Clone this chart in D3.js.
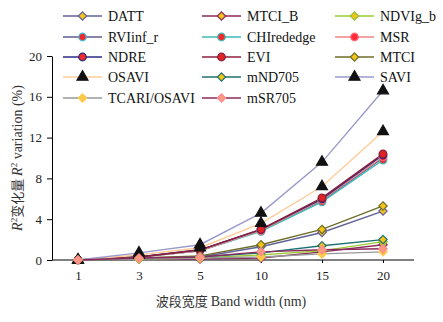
<!DOCTYPE html>
<html>
<head>
<meta charset="utf-8">
<script src="https://cdn.jsdelivr.net/npm/d3@7"></script>
<style>
  body { margin: 0; background: #fff; }
</style>
</head>
<body>
<svg id="chart" width="443" height="322"></svg>
<script>
var bandWidths = ["1", "3", "5", "10", "15", "20"];
var yTicks = [0, 4, 8, 12, 16, 20];

// R2 variation (%) per index
var DATT       = [0, 0.15, 0.3, 1.3, 2.7, 4.8];
var MTCI_B     = [0, 0.1, 0.1, 0.2, 0.8, 1.5];
var NDVIg_b    = [0, 0.1, 0.2, 0.5, 0.9, 1.8];
var RVIinf_r   = [0, 0.3, 0.9, 2.9, 5.8, 10.0];
var CHIrededge = [0, 0.3, 0.9, 2.8, 5.7, 9.8];
var MSR        = [0, 0.3, 0.9, 2.9, 5.9, 10.1];
var NDRE       = [0, 0.3, 1.0, 3.0, 6.0, 10.3];
var EVI        = [0, 0.3, 1.0, 3.0, 6.1, 10.4];
var MTCI       = [0, 0.2, 0.4, 1.5, 3.0, 5.3];
var OSAVI      = [0, 0.5, 1.2, 3.6, 7.2, 12.6];
var mND705     = [0, 0.1, 0.3, 0.7, 1.4, 2.0];
var SAVI       = [0, 0.7, 1.5, 4.6, 9.6, 16.6];
var TCARI_OSAVI = [0, 0.1, 0.2, 0.3, 0.6, 0.8];
var mSR705     = [0, 0.2, 0.3, 0.8, 1.0, 1.1];

var SERIF = "'Liberation Serif', 'Times New Roman', serif";
var CJK = "'Noto Sans CJK SC', sans-serif";

// name, values, line colour, marker, fill, stroke
var series = [
  ["DATT", DATT, "#62629a", "diamond", "#f5c21a", "#62629a"],
  ["MTCI_B", MTCI_B, "#8c2a5c", "diamond", "#f5c21a", "#8c2a5c"],
  ["NDVIg_b", NDVIg_b, "#9acd32", "diamond", "#f5c21a", "#8fc23a"],
  ["RVIinf_r", RVIinf_r, "#5c5c8c", "circle", "#ee2a2a", "#3cc0e0"],
  ["CHIrededge", CHIrededge, "#3fb8b8", "circle", "#ee2a2a", "#3fb8b8"],
  ["MSR", MSR, "#f08585", "circle", "#ff2a3a", "#ff6a7a"],
  ["NDRE", NDRE, "#2a2a82", "circle", "#ee2a2a", "#2a2a82"],
  ["EVI", EVI, "#8c1f3c", "circle", "#e02424", "#8c1f3c"],
  ["MTCI", MTCI, "#6e6e2a", "diamond", "#f5c21a", "#6e6e2a"],
  ["OSAVI", OSAVI, "#ffcc99", "triangle", "#111", "#111"],
  ["mND705", mND705, "#1f7272", "diamond", "#f5c21a", "#1f7272"],
  ["SAVI", SAVI, "#9a9acc", "triangle", "#111", "#111"],
  ["TCARI/OSAVI", TCARI_OSAVI, "#999999", "diamond", "#ffc94a", "#ffc94a"],
  ["mSR705", mSR705, "#8c2a5c", "diamond", "#ff9a80", "#ff8a90"]
];

var svg = d3.select("#chart");

var x = d3.scalePoint().domain(bandWidths).range([78, 383]);
var y = d3.scaleLinear().domain([0, 20]).range([260, 56]);

function markerPath(type) {
  if (type === "diamond") return d3.symbol().type(d3.symbolDiamond2).size(44)();
  if (type === "circle") return d3.symbol().type(d3.symbolCircle).size(45)();
  return d3.symbol().type(d3.symbolTriangle).size(52)();
}

// axes
var yAxis = d3.axisLeft(y).tickValues(yTicks).tickSize(5).tickSizeOuter(0);
var gy = svg.append("g").attr("transform", "translate(52,0)").call(yAxis);
gy.attr("font-family", null);
gy.selectAll("text").style("font-family", SERIF).style("font-size", "13px").attr("fill", "#222").attr("dx", "-2");
gy.selectAll("line,path").attr("stroke", "#000");

var xAxis = d3.axisBottom(x).tickSize(3).tickSizeOuter(0);
var gx = svg.append("g").attr("transform", "translate(0,260)").call(xAxis);
gx.select(".domain").remove();
gx.selectAll("text").style("font-family", SERIF).style("font-size", "13px").attr("fill", "#222").attr("dy", "1.1em");
gx.selectAll("line").attr("stroke", "#000");
svg.append("line").attr("x1", 52).attr("x2", 414).attr("y1", 260).attr("y2", 260)
  .attr("stroke", "#000");

// lines
var line = d3.line().x(function(d, i) { return x(bandWidths[i]); }).y(function(d) { return y(d); });

series.forEach(function(s) {
  svg.append("path").datum(s[1]).attr("d", line)
    .attr("fill", "none").attr("stroke", s[2]).attr("stroke-width", 1.4);
});
series.forEach(function(s) {
  svg.selectAll(null).data(s[1]).enter().append("path")
    .attr("d", markerPath(s[3]))
    .attr("transform", function(d, i) { return "translate(" + x(bandWidths[i]) + "," + y(d) + ")"; })
    .attr("fill", s[4]).attr("stroke", s[5]).attr("stroke-width", 1.2);
});

// legend
var colX = [63, 202, 335];
var rowY = [16, 37, 57, 77, 98];
series.forEach(function(s, i) {
  var cx = colX[i % 3], cy = rowY[Math.floor(i / 3)];
  var g = svg.append("g").attr("transform", "translate(" + cx + "," + cy + ")");
  g.append("rect").attr("x", -2).attr("y", -9).attr("width", 40).attr("height", 18).attr("fill", "#fff");
  g.append("line").attr("x1", 0).attr("x2", 39).attr("stroke", s[2]).attr("stroke-width", 1.4);
  g.append("path").attr("d", markerPath(s[3])).attr("transform", "translate(19.5,0)")
    .attr("fill", s[4]).attr("stroke", s[5]).attr("stroke-width", 1.2);
  g.append("text").attr("x", 45).attr("y", 5).style("font-family", SERIF)
    .style("font-size", "14px").attr("fill", "#111").text(s[0]);
});

// axis titles
var xt = svg.append("text").attr("x", 231).attr("y", 306).attr("text-anchor", "middle")
  .style("font-family", SERIF).style("font-size", "14px").attr("fill", "#333");
xt.append("tspan").style("font-family", CJK).style("font-size", "13px").text("波段宽度 ");
xt.append("tspan").text("Band width (nm)");

var yt = svg.append("text").attr("transform", "translate(22,158) rotate(-90)")
  .attr("text-anchor", "middle").style("font-family", SERIF).style("font-size", "14px").attr("fill", "#333");
yt.append("tspan").style("font-style", "italic").text("R");
yt.append("tspan").attr("dy", -5).style("font-size", "9px").text("2");
yt.append("tspan").attr("dy", 5).style("font-family", CJK).style("font-size", "13px").text("变化量 ");
yt.append("tspan").style("font-style", "italic").text("R");
yt.append("tspan").attr("dy", -5).style("font-size", "9px").text("2");
yt.append("tspan").attr("dy", 5).text(" variation (%)");
</script>
</body>
</html>
